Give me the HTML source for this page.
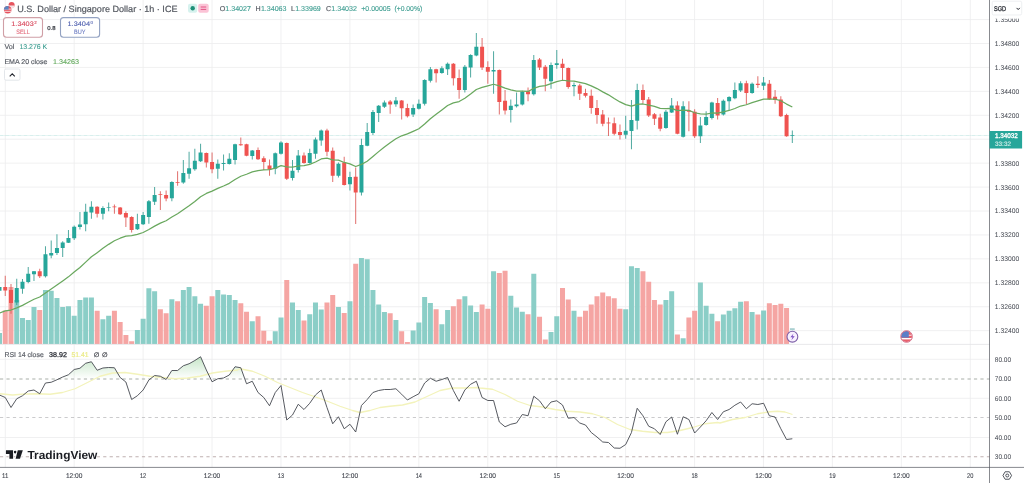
<!DOCTYPE html><html><head><meta charset="utf-8"><title>USDSGD chart</title>
<style>html,body{margin:0;padding:0;background:#fff;overflow:hidden}svg{display:block;filter:blur(0.35px)}text{font-family:"Liberation Sans", "DejaVu Sans", sans-serif;text-rendering:geometricPrecision}</style></head><body>
<svg width="1024" height="483" viewBox="0 0 1024 483">
<rect width="1024" height="483" fill="#fff"/>
<g stroke="#ececee" stroke-width="0.8" fill="none">
<line x1="5.25" y1="0" x2="5.25" y2="467.4"/>
<line x1="74.18" y1="0" x2="74.18" y2="467.4"/>
<line x1="143.11" y1="0" x2="143.11" y2="467.4"/>
<line x1="212.04" y1="0" x2="212.04" y2="467.4"/>
<line x1="280.97" y1="0" x2="280.97" y2="467.4"/>
<line x1="349.90" y1="0" x2="349.90" y2="467.4"/>
<line x1="418.83" y1="0" x2="418.83" y2="467.4"/>
<line x1="487.76" y1="0" x2="487.76" y2="467.4"/>
<line x1="556.69" y1="0" x2="556.69" y2="467.4"/>
<line x1="625.62" y1="0" x2="625.62" y2="467.4"/>
<line x1="694.55" y1="0" x2="694.55" y2="467.4"/>
<line x1="763.48" y1="0" x2="763.48" y2="467.4"/>
<line x1="832.41" y1="0" x2="832.41" y2="467.4"/>
<line x1="901.34" y1="0" x2="901.34" y2="467.4"/>
<line x1="970.27" y1="0" x2="970.27" y2="467.4"/>
<line x1="0" y1="19.57" x2="989.5" y2="19.57"/>
<line x1="0" y1="43.50" x2="989.5" y2="43.50"/>
<line x1="0" y1="67.43" x2="989.5" y2="67.43"/>
<line x1="0" y1="91.36" x2="989.5" y2="91.36"/>
<line x1="0" y1="115.29" x2="989.5" y2="115.29"/>
<line x1="0" y1="139.22" x2="989.5" y2="139.22"/>
<line x1="0" y1="163.15" x2="989.5" y2="163.15"/>
<line x1="0" y1="187.08" x2="989.5" y2="187.08"/>
<line x1="0" y1="211.01" x2="989.5" y2="211.01"/>
<line x1="0" y1="234.94" x2="989.5" y2="234.94"/>
<line x1="0" y1="258.87" x2="989.5" y2="258.87"/>
<line x1="0" y1="282.80" x2="989.5" y2="282.80"/>
<line x1="0" y1="306.73" x2="989.5" y2="306.73"/>
<line x1="0" y1="330.66" x2="989.5" y2="330.66"/>
<line x1="0" y1="359.25" x2="989.5" y2="359.25"/>
<line x1="0" y1="398.25" x2="989.5" y2="398.25"/>
<line x1="0" y1="437.50" x2="989.5" y2="437.50"/>
</g>
<g>
<rect x="-3.00" y="333.00" width="5" height="11.00" fill="#8bcec7"/>
<rect x="2.75" y="310.50" width="5" height="33.50" fill="#f5a5a3"/>
<rect x="8.50" y="287.00" width="5" height="57.00" fill="#f5a5a3"/>
<rect x="14.24" y="300.00" width="5" height="44.00" fill="#8bcec7"/>
<rect x="19.98" y="318.00" width="5" height="26.00" fill="#8bcec7"/>
<rect x="25.73" y="320.00" width="5" height="24.00" fill="#8bcec7"/>
<rect x="31.48" y="307.00" width="5" height="37.00" fill="#8bcec7"/>
<rect x="37.22" y="310.00" width="5" height="34.00" fill="#f5a5a3"/>
<rect x="42.97" y="290.00" width="5" height="54.00" fill="#8bcec7"/>
<rect x="48.71" y="290.75" width="5" height="53.25" fill="#8bcec7"/>
<rect x="54.45" y="298.00" width="5" height="46.00" fill="#8bcec7"/>
<rect x="60.20" y="307.00" width="5" height="37.00" fill="#8bcec7"/>
<rect x="65.94" y="306.25" width="5" height="37.75" fill="#8bcec7"/>
<rect x="71.69" y="315.75" width="5" height="28.25" fill="#8bcec7"/>
<rect x="77.44" y="300.00" width="5" height="44.00" fill="#8bcec7"/>
<rect x="83.18" y="297.50" width="5" height="46.50" fill="#8bcec7"/>
<rect x="88.92" y="297.50" width="5" height="46.50" fill="#8bcec7"/>
<rect x="94.67" y="310.75" width="5" height="33.25" fill="#f5a5a3"/>
<rect x="100.42" y="319.25" width="5" height="24.75" fill="#8bcec7"/>
<rect x="106.16" y="315.75" width="5" height="28.25" fill="#8bcec7"/>
<rect x="111.91" y="310.75" width="5" height="33.25" fill="#f5a5a3"/>
<rect x="117.65" y="322.00" width="5" height="22.00" fill="#f5a5a3"/>
<rect x="123.39" y="335.00" width="5" height="9.00" fill="#f5a5a3"/>
<rect x="129.14" y="341.25" width="5" height="2.75" fill="#f5a5a3"/>
<rect x="134.88" y="330.00" width="5" height="14.00" fill="#8bcec7"/>
<rect x="140.63" y="318.75" width="5" height="25.25" fill="#8bcec7"/>
<rect x="146.38" y="288.25" width="5" height="55.75" fill="#8bcec7"/>
<rect x="152.12" y="291.25" width="5" height="52.75" fill="#8bcec7"/>
<rect x="157.87" y="309.25" width="5" height="34.75" fill="#f5a5a3"/>
<rect x="163.61" y="313.25" width="5" height="30.75" fill="#f5a5a3"/>
<rect x="169.35" y="299.25" width="5" height="44.75" fill="#8bcec7"/>
<rect x="175.10" y="301.25" width="5" height="42.75" fill="#f5a5a3"/>
<rect x="180.84" y="290.00" width="5" height="54.00" fill="#8bcec7"/>
<rect x="186.59" y="287.00" width="5" height="57.00" fill="#8bcec7"/>
<rect x="192.34" y="296.25" width="5" height="47.75" fill="#8bcec7"/>
<rect x="198.08" y="303.75" width="5" height="40.25" fill="#8bcec7"/>
<rect x="203.83" y="305.75" width="5" height="38.25" fill="#f5a5a3"/>
<rect x="209.57" y="296.25" width="5" height="47.75" fill="#f5a5a3"/>
<rect x="215.31" y="290.00" width="5" height="54.00" fill="#8bcec7"/>
<rect x="221.06" y="294.50" width="5" height="49.50" fill="#8bcec7"/>
<rect x="226.81" y="295.00" width="5" height="49.00" fill="#8bcec7"/>
<rect x="232.55" y="300.00" width="5" height="44.00" fill="#8bcec7"/>
<rect x="238.30" y="303.25" width="5" height="40.75" fill="#f5a5a3"/>
<rect x="244.04" y="311.75" width="5" height="32.25" fill="#f5a5a3"/>
<rect x="249.78" y="321.25" width="5" height="22.75" fill="#8bcec7"/>
<rect x="255.53" y="316.25" width="5" height="27.75" fill="#f5a5a3"/>
<rect x="261.27" y="330.75" width="5" height="13.25" fill="#f5a5a3"/>
<rect x="267.02" y="340.75" width="5" height="3.25" fill="#f5a5a3"/>
<rect x="272.76" y="331.25" width="5" height="12.75" fill="#8bcec7"/>
<rect x="278.51" y="317.50" width="5" height="26.50" fill="#8bcec7"/>
<rect x="284.25" y="280.00" width="5" height="64.00" fill="#f5a5a3"/>
<rect x="290.00" y="302.50" width="5" height="41.50" fill="#8bcec7"/>
<rect x="295.75" y="310.00" width="5" height="34.00" fill="#8bcec7"/>
<rect x="301.49" y="320.50" width="5" height="23.50" fill="#f5a5a3"/>
<rect x="307.24" y="314.25" width="5" height="29.75" fill="#8bcec7"/>
<rect x="312.98" y="302.50" width="5" height="41.50" fill="#8bcec7"/>
<rect x="318.73" y="309.50" width="5" height="34.50" fill="#8bcec7"/>
<rect x="324.47" y="302.50" width="5" height="41.50" fill="#f5a5a3"/>
<rect x="330.22" y="295.00" width="5" height="49.00" fill="#f5a5a3"/>
<rect x="335.96" y="307.00" width="5" height="37.00" fill="#8bcec7"/>
<rect x="341.70" y="313.00" width="5" height="31.00" fill="#f5a5a3"/>
<rect x="347.45" y="301.25" width="5" height="42.75" fill="#8bcec7"/>
<rect x="353.19" y="263.75" width="5" height="80.25" fill="#f5a5a3"/>
<rect x="358.94" y="258.00" width="5" height="86.00" fill="#8bcec7"/>
<rect x="364.69" y="259.25" width="5" height="84.75" fill="#8bcec7"/>
<rect x="370.43" y="290.00" width="5" height="54.00" fill="#8bcec7"/>
<rect x="376.18" y="304.50" width="5" height="39.50" fill="#8bcec7"/>
<rect x="381.92" y="312.00" width="5" height="32.00" fill="#8bcec7"/>
<rect x="387.67" y="313.25" width="5" height="30.75" fill="#f5a5a3"/>
<rect x="393.41" y="320.00" width="5" height="24.00" fill="#8bcec7"/>
<rect x="399.16" y="331.25" width="5" height="12.75" fill="#f5a5a3"/>
<rect x="404.90" y="342.00" width="5" height="2.00" fill="#f5a5a3"/>
<rect x="410.64" y="330.50" width="5" height="13.50" fill="#8bcec7"/>
<rect x="416.39" y="322.50" width="5" height="21.50" fill="#8bcec7"/>
<rect x="422.13" y="297.00" width="5" height="47.00" fill="#8bcec7"/>
<rect x="427.88" y="303.00" width="5" height="41.00" fill="#8bcec7"/>
<rect x="433.62" y="309.25" width="5" height="34.75" fill="#f5a5a3"/>
<rect x="439.37" y="324.25" width="5" height="19.75" fill="#8bcec7"/>
<rect x="445.12" y="310.00" width="5" height="34.00" fill="#8bcec7"/>
<rect x="450.86" y="306.25" width="5" height="37.75" fill="#f5a5a3"/>
<rect x="456.61" y="299.25" width="5" height="44.75" fill="#f5a5a3"/>
<rect x="462.35" y="296.25" width="5" height="47.75" fill="#8bcec7"/>
<rect x="468.10" y="305.50" width="5" height="38.50" fill="#8bcec7"/>
<rect x="473.84" y="312.00" width="5" height="32.00" fill="#8bcec7"/>
<rect x="479.59" y="304.50" width="5" height="39.50" fill="#f5a5a3"/>
<rect x="485.33" y="308.75" width="5" height="35.25" fill="#f5a5a3"/>
<rect x="491.07" y="271.25" width="5" height="72.75" fill="#8bcec7"/>
<rect x="496.82" y="273.00" width="5" height="71.00" fill="#f5a5a3"/>
<rect x="502.56" y="270.75" width="5" height="73.25" fill="#f5a5a3"/>
<rect x="508.31" y="295.75" width="5" height="48.25" fill="#8bcec7"/>
<rect x="514.06" y="307.50" width="5" height="36.50" fill="#8bcec7"/>
<rect x="519.80" y="311.75" width="5" height="32.25" fill="#8bcec7"/>
<rect x="525.54" y="314.25" width="5" height="29.75" fill="#f5a5a3"/>
<rect x="531.29" y="273.75" width="5" height="70.25" fill="#8bcec7"/>
<rect x="537.03" y="316.75" width="5" height="27.25" fill="#f5a5a3"/>
<rect x="542.78" y="339.50" width="5" height="4.50" fill="#f5a5a3"/>
<rect x="548.52" y="332.00" width="5" height="12.00" fill="#8bcec7"/>
<rect x="554.27" y="316.25" width="5" height="27.75" fill="#8bcec7"/>
<rect x="560.01" y="288.00" width="5" height="56.00" fill="#f5a5a3"/>
<rect x="565.76" y="299.50" width="5" height="44.50" fill="#f5a5a3"/>
<rect x="571.50" y="310.75" width="5" height="33.25" fill="#8bcec7"/>
<rect x="577.25" y="316.75" width="5" height="27.25" fill="#f5a5a3"/>
<rect x="583.00" y="310.75" width="5" height="33.25" fill="#f5a5a3"/>
<rect x="588.74" y="304.50" width="5" height="39.50" fill="#f5a5a3"/>
<rect x="594.49" y="296.25" width="5" height="47.75" fill="#f5a5a3"/>
<rect x="600.23" y="292.50" width="5" height="51.50" fill="#f5a5a3"/>
<rect x="605.98" y="296.25" width="5" height="47.75" fill="#f5a5a3"/>
<rect x="611.72" y="298.25" width="5" height="45.75" fill="#f5a5a3"/>
<rect x="617.47" y="308.75" width="5" height="35.25" fill="#f5a5a3"/>
<rect x="623.21" y="309.25" width="5" height="34.75" fill="#8bcec7"/>
<rect x="628.96" y="266.25" width="5" height="77.75" fill="#8bcec7"/>
<rect x="634.70" y="268.00" width="5" height="76.00" fill="#8bcec7"/>
<rect x="640.45" y="271.25" width="5" height="72.75" fill="#f5a5a3"/>
<rect x="646.19" y="281.75" width="5" height="62.25" fill="#f5a5a3"/>
<rect x="651.94" y="300.00" width="5" height="44.00" fill="#f5a5a3"/>
<rect x="657.68" y="304.50" width="5" height="39.50" fill="#f5a5a3"/>
<rect x="663.43" y="300.00" width="5" height="44.00" fill="#8bcec7"/>
<rect x="669.17" y="291.25" width="5" height="52.75" fill="#8bcec7"/>
<rect x="674.91" y="334.50" width="5" height="9.50" fill="#f5a5a3"/>
<rect x="680.66" y="338.25" width="5" height="5.75" fill="#8bcec7"/>
<rect x="686.40" y="317.50" width="5" height="26.50" fill="#f5a5a3"/>
<rect x="692.15" y="310.75" width="5" height="33.25" fill="#f5a5a3"/>
<rect x="697.89" y="282.50" width="5" height="61.50" fill="#8bcec7"/>
<rect x="703.64" y="305.75" width="5" height="38.25" fill="#8bcec7"/>
<rect x="709.38" y="313.75" width="5" height="30.25" fill="#8bcec7"/>
<rect x="715.13" y="321.25" width="5" height="22.75" fill="#f5a5a3"/>
<rect x="720.88" y="314.50" width="5" height="29.50" fill="#8bcec7"/>
<rect x="726.62" y="310.75" width="5" height="33.25" fill="#8bcec7"/>
<rect x="732.37" y="308.25" width="5" height="35.75" fill="#8bcec7"/>
<rect x="738.11" y="301.75" width="5" height="42.25" fill="#8bcec7"/>
<rect x="743.86" y="301.25" width="5" height="42.75" fill="#f5a5a3"/>
<rect x="749.60" y="312.00" width="5" height="32.00" fill="#8bcec7"/>
<rect x="755.35" y="314.50" width="5" height="29.50" fill="#f5a5a3"/>
<rect x="761.09" y="310.50" width="5" height="33.50" fill="#8bcec7"/>
<rect x="766.84" y="303.25" width="5" height="40.75" fill="#f5a5a3"/>
<rect x="772.58" y="305.00" width="5" height="39.00" fill="#f5a5a3"/>
<rect x="778.33" y="303.75" width="5" height="40.25" fill="#f5a5a3"/>
<rect x="784.07" y="308.00" width="5" height="36.00" fill="#f5a5a3"/>
<rect x="789.92" y="328.2" width="4.8" height="2" fill="#a9cfd0"/>
</g>
<line x1="0" y1="135.4" x2="989.5" y2="135.4" stroke="#26a69a" stroke-width="0.6" stroke-dasharray="0.6 0.6" opacity="0.55"/>
<g>
<line x1="-0.50" y1="285.00" x2="-0.50" y2="292.00" stroke="#2f9a8f" stroke-width="0.85"/>
<rect x="-2.50" y="287.00" width="4" height="3.75" fill="#26a69a"/>
<line x1="5.25" y1="275.75" x2="5.25" y2="296.00" stroke="#dc5553" stroke-width="0.85"/>
<rect x="3.25" y="287.00" width="4" height="3.50" fill="#ef5350"/>
<line x1="11.00" y1="284.00" x2="11.00" y2="313.75" stroke="#dc5553" stroke-width="0.85"/>
<rect x="9.00" y="290.00" width="4" height="13.00" fill="#ef5350"/>
<line x1="16.74" y1="278.75" x2="16.74" y2="305.00" stroke="#2f9a8f" stroke-width="0.85"/>
<rect x="14.74" y="288.00" width="4" height="14.50" fill="#26a69a"/>
<line x1="22.48" y1="279.00" x2="22.48" y2="293.75" stroke="#2f9a8f" stroke-width="0.85"/>
<rect x="20.48" y="281.75" width="4" height="7.00" fill="#26a69a"/>
<line x1="28.23" y1="267.00" x2="28.23" y2="283.25" stroke="#2f9a8f" stroke-width="0.85"/>
<rect x="26.23" y="273.75" width="4" height="8.25" fill="#26a69a"/>
<line x1="33.98" y1="271.00" x2="33.98" y2="281.00" stroke="#2f9a8f" stroke-width="0.85"/>
<rect x="31.98" y="271.25" width="4" height="3.00" fill="#26a69a"/>
<line x1="39.72" y1="268.75" x2="39.72" y2="278.00" stroke="#dc5553" stroke-width="0.85"/>
<rect x="37.72" y="271.25" width="4" height="5.00" fill="#ef5350"/>
<line x1="45.47" y1="246.25" x2="45.47" y2="277.50" stroke="#2f9a8f" stroke-width="0.85"/>
<rect x="43.47" y="254.25" width="4" height="22.00" fill="#26a69a"/>
<line x1="51.21" y1="240.50" x2="51.21" y2="258.25" stroke="#2f9a8f" stroke-width="0.85"/>
<rect x="49.21" y="253.00" width="4" height="2.50" fill="#26a69a"/>
<line x1="56.95" y1="234.25" x2="56.95" y2="255.00" stroke="#2f9a8f" stroke-width="0.85"/>
<rect x="54.95" y="248.00" width="4" height="5.00" fill="#26a69a"/>
<line x1="62.70" y1="241.25" x2="62.70" y2="257.00" stroke="#2f9a8f" stroke-width="0.85"/>
<rect x="60.70" y="242.50" width="4" height="5.50" fill="#26a69a"/>
<line x1="68.44" y1="230.00" x2="68.44" y2="243.00" stroke="#2f9a8f" stroke-width="0.85"/>
<rect x="66.44" y="238.00" width="4" height="4.75" fill="#26a69a"/>
<line x1="74.19" y1="225.50" x2="74.19" y2="240.00" stroke="#2f9a8f" stroke-width="0.85"/>
<rect x="72.19" y="226.75" width="4" height="11.50" fill="#26a69a"/>
<line x1="79.94" y1="212.00" x2="79.94" y2="229.50" stroke="#2f9a8f" stroke-width="0.85"/>
<rect x="77.94" y="224.50" width="4" height="2.50" fill="#26a69a"/>
<line x1="85.68" y1="203.75" x2="85.68" y2="231.25" stroke="#2f9a8f" stroke-width="0.85"/>
<rect x="83.68" y="211.75" width="4" height="12.50" fill="#26a69a"/>
<line x1="91.42" y1="201.25" x2="91.42" y2="218.75" stroke="#2f9a8f" stroke-width="0.85"/>
<rect x="89.42" y="206.75" width="4" height="5.75" fill="#26a69a"/>
<line x1="97.17" y1="206.25" x2="97.17" y2="217.50" stroke="#dc5553" stroke-width="0.85"/>
<rect x="95.17" y="206.75" width="4" height="7.00" fill="#ef5350"/>
<line x1="102.92" y1="206.25" x2="102.92" y2="219.50" stroke="#2f9a8f" stroke-width="0.85"/>
<rect x="100.92" y="208.00" width="4" height="5.75" fill="#26a69a"/>
<line x1="108.66" y1="202.50" x2="108.66" y2="211.25" stroke="#2f9a8f" stroke-width="0.85"/>
<rect x="106.66" y="207.00" width="4" height="0.60" fill="#26a69a"/>
<line x1="114.41" y1="204.50" x2="114.41" y2="213.75" stroke="#dc5553" stroke-width="0.85"/>
<rect x="112.41" y="206.50" width="4" height="0.75" fill="#ef5350"/>
<line x1="120.15" y1="207.00" x2="120.15" y2="215.00" stroke="#dc5553" stroke-width="0.85"/>
<rect x="118.15" y="207.50" width="4" height="6.75" fill="#ef5350"/>
<line x1="125.89" y1="211.25" x2="125.89" y2="227.00" stroke="#dc5553" stroke-width="0.85"/>
<rect x="123.89" y="213.00" width="4" height="4.50" fill="#ef5350"/>
<line x1="131.64" y1="216.25" x2="131.64" y2="232.50" stroke="#dc5553" stroke-width="0.85"/>
<rect x="129.64" y="217.00" width="4" height="13.00" fill="#ef5350"/>
<line x1="137.38" y1="213.75" x2="137.38" y2="230.00" stroke="#2f9a8f" stroke-width="0.85"/>
<rect x="135.38" y="224.00" width="4" height="5.25" fill="#26a69a"/>
<line x1="143.13" y1="212.00" x2="143.13" y2="225.00" stroke="#2f9a8f" stroke-width="0.85"/>
<rect x="141.13" y="215.00" width="4" height="9.25" fill="#26a69a"/>
<line x1="148.88" y1="200.00" x2="148.88" y2="223.75" stroke="#2f9a8f" stroke-width="0.85"/>
<rect x="146.88" y="201.25" width="4" height="15.75" fill="#26a69a"/>
<line x1="154.62" y1="187.00" x2="154.62" y2="205.00" stroke="#2f9a8f" stroke-width="0.85"/>
<rect x="152.62" y="195.00" width="4" height="6.75" fill="#26a69a"/>
<line x1="160.37" y1="191.25" x2="160.37" y2="210.00" stroke="#dc5553" stroke-width="0.85"/>
<rect x="158.37" y="194.25" width="4" height="0.75" fill="#ef5350"/>
<line x1="166.11" y1="190.50" x2="166.11" y2="201.25" stroke="#dc5553" stroke-width="0.85"/>
<rect x="164.11" y="195.00" width="4" height="3.50" fill="#ef5350"/>
<line x1="171.85" y1="181.25" x2="171.85" y2="201.25" stroke="#2f9a8f" stroke-width="0.85"/>
<rect x="169.85" y="182.00" width="4" height="16.25" fill="#26a69a"/>
<line x1="177.60" y1="171.25" x2="177.60" y2="185.75" stroke="#dc5553" stroke-width="0.85"/>
<rect x="175.60" y="182.00" width="4" height="0.75" fill="#ef5350"/>
<line x1="183.34" y1="160.00" x2="183.34" y2="183.75" stroke="#2f9a8f" stroke-width="0.85"/>
<rect x="181.34" y="173.00" width="4" height="9.50" fill="#26a69a"/>
<line x1="189.09" y1="151.75" x2="189.09" y2="178.75" stroke="#2f9a8f" stroke-width="0.85"/>
<rect x="187.09" y="168.25" width="4" height="5.50" fill="#26a69a"/>
<line x1="194.84" y1="148.75" x2="194.84" y2="170.75" stroke="#2f9a8f" stroke-width="0.85"/>
<rect x="192.84" y="160.75" width="4" height="8.50" fill="#26a69a"/>
<line x1="200.58" y1="143.75" x2="200.58" y2="162.00" stroke="#2f9a8f" stroke-width="0.85"/>
<rect x="198.58" y="152.50" width="4" height="8.75" fill="#26a69a"/>
<line x1="206.33" y1="152.50" x2="206.33" y2="167.50" stroke="#dc5553" stroke-width="0.85"/>
<rect x="204.33" y="153.00" width="4" height="9.50" fill="#ef5350"/>
<line x1="212.07" y1="152.50" x2="212.07" y2="173.25" stroke="#dc5553" stroke-width="0.85"/>
<rect x="210.07" y="162.00" width="4" height="7.25" fill="#ef5350"/>
<line x1="217.81" y1="159.50" x2="217.81" y2="178.75" stroke="#2f9a8f" stroke-width="0.85"/>
<rect x="215.81" y="163.75" width="4" height="5.00" fill="#26a69a"/>
<line x1="223.56" y1="154.50" x2="223.56" y2="170.50" stroke="#2f9a8f" stroke-width="0.85"/>
<rect x="221.56" y="163.00" width="4" height="1.00" fill="#26a69a"/>
<line x1="229.31" y1="153.25" x2="229.31" y2="164.50" stroke="#2f9a8f" stroke-width="0.85"/>
<rect x="227.31" y="158.75" width="4" height="5.25" fill="#26a69a"/>
<line x1="235.05" y1="143.75" x2="235.05" y2="164.50" stroke="#2f9a8f" stroke-width="0.85"/>
<rect x="233.05" y="144.25" width="4" height="15.75" fill="#26a69a"/>
<line x1="240.80" y1="137.50" x2="240.80" y2="145.75" stroke="#dc5553" stroke-width="0.85"/>
<rect x="238.80" y="144.25" width="4" height="1.00" fill="#ef5350"/>
<line x1="246.54" y1="143.75" x2="246.54" y2="156.25" stroke="#dc5553" stroke-width="0.85"/>
<rect x="244.54" y="144.25" width="4" height="11.50" fill="#ef5350"/>
<line x1="252.28" y1="150.00" x2="252.28" y2="159.50" stroke="#2f9a8f" stroke-width="0.85"/>
<rect x="250.28" y="150.50" width="4" height="5.50" fill="#26a69a"/>
<line x1="258.03" y1="147.50" x2="258.03" y2="160.00" stroke="#dc5553" stroke-width="0.85"/>
<rect x="256.03" y="150.00" width="4" height="9.25" fill="#ef5350"/>
<line x1="263.77" y1="156.25" x2="263.77" y2="170.00" stroke="#dc5553" stroke-width="0.85"/>
<rect x="261.77" y="158.25" width="4" height="3.75" fill="#ef5350"/>
<line x1="269.52" y1="159.50" x2="269.52" y2="175.75" stroke="#dc5553" stroke-width="0.85"/>
<rect x="267.52" y="165.50" width="4" height="4.00" fill="#ef5350"/>
<line x1="275.26" y1="152.50" x2="275.26" y2="174.25" stroke="#2f9a8f" stroke-width="0.85"/>
<rect x="273.26" y="153.25" width="4" height="15.50" fill="#26a69a"/>
<line x1="281.01" y1="141.25" x2="281.01" y2="154.50" stroke="#2f9a8f" stroke-width="0.85"/>
<rect x="279.01" y="142.50" width="4" height="11.25" fill="#26a69a"/>
<line x1="286.75" y1="142.50" x2="286.75" y2="180.00" stroke="#dc5553" stroke-width="0.85"/>
<rect x="284.75" y="143.00" width="4" height="35.75" fill="#ef5350"/>
<line x1="292.50" y1="160.00" x2="292.50" y2="180.50" stroke="#2f9a8f" stroke-width="0.85"/>
<rect x="290.50" y="170.75" width="4" height="7.25" fill="#26a69a"/>
<line x1="298.25" y1="150.00" x2="298.25" y2="172.50" stroke="#2f9a8f" stroke-width="0.85"/>
<rect x="296.25" y="155.50" width="4" height="14.50" fill="#26a69a"/>
<line x1="303.99" y1="152.50" x2="303.99" y2="163.75" stroke="#dc5553" stroke-width="0.85"/>
<rect x="301.99" y="155.50" width="4" height="7.50" fill="#ef5350"/>
<line x1="309.74" y1="148.75" x2="309.74" y2="163.75" stroke="#2f9a8f" stroke-width="0.85"/>
<rect x="307.74" y="153.00" width="4" height="10.00" fill="#26a69a"/>
<line x1="315.48" y1="137.50" x2="315.48" y2="158.75" stroke="#2f9a8f" stroke-width="0.85"/>
<rect x="313.48" y="139.50" width="4" height="14.25" fill="#26a69a"/>
<line x1="321.23" y1="129.50" x2="321.23" y2="145.75" stroke="#2f9a8f" stroke-width="0.85"/>
<rect x="319.23" y="130.50" width="4" height="10.00" fill="#26a69a"/>
<line x1="326.97" y1="128.75" x2="326.97" y2="156.25" stroke="#dc5553" stroke-width="0.85"/>
<rect x="324.97" y="130.50" width="4" height="21.25" fill="#ef5350"/>
<line x1="332.72" y1="147.50" x2="332.72" y2="182.00" stroke="#dc5553" stroke-width="0.85"/>
<rect x="330.72" y="150.75" width="4" height="25.00" fill="#ef5350"/>
<line x1="338.46" y1="162.50" x2="338.46" y2="177.50" stroke="#2f9a8f" stroke-width="0.85"/>
<rect x="336.46" y="163.75" width="4" height="12.00" fill="#26a69a"/>
<line x1="344.20" y1="156.75" x2="344.20" y2="185.50" stroke="#dc5553" stroke-width="0.85"/>
<rect x="342.20" y="162.50" width="4" height="22.50" fill="#ef5350"/>
<line x1="349.95" y1="171.75" x2="349.95" y2="190.50" stroke="#2f9a8f" stroke-width="0.85"/>
<rect x="347.95" y="177.00" width="4" height="7.25" fill="#26a69a"/>
<line x1="355.69" y1="167.50" x2="355.69" y2="224.00" stroke="#dc5553" stroke-width="0.85"/>
<rect x="353.69" y="176.75" width="4" height="15.75" fill="#ef5350"/>
<line x1="361.44" y1="138.75" x2="361.44" y2="195.50" stroke="#2f9a8f" stroke-width="0.85"/>
<rect x="359.44" y="145.00" width="4" height="47.50" fill="#26a69a"/>
<line x1="367.19" y1="123.00" x2="367.19" y2="146.25" stroke="#2f9a8f" stroke-width="0.85"/>
<rect x="365.19" y="132.00" width="4" height="13.75" fill="#26a69a"/>
<line x1="372.93" y1="110.00" x2="372.93" y2="135.00" stroke="#2f9a8f" stroke-width="0.85"/>
<rect x="370.93" y="112.00" width="4" height="21.00" fill="#26a69a"/>
<line x1="378.68" y1="105.00" x2="378.68" y2="122.00" stroke="#2f9a8f" stroke-width="0.85"/>
<rect x="376.68" y="105.75" width="4" height="7.25" fill="#26a69a"/>
<line x1="384.42" y1="100.50" x2="384.42" y2="108.00" stroke="#2f9a8f" stroke-width="0.85"/>
<rect x="382.42" y="102.50" width="4" height="4.25" fill="#26a69a"/>
<line x1="390.17" y1="100.00" x2="390.17" y2="113.75" stroke="#dc5553" stroke-width="0.85"/>
<rect x="388.17" y="101.50" width="4" height="3.00" fill="#ef5350"/>
<line x1="395.91" y1="97.00" x2="395.91" y2="106.75" stroke="#2f9a8f" stroke-width="0.85"/>
<rect x="393.91" y="100.50" width="4" height="3.75" fill="#26a69a"/>
<line x1="401.66" y1="100.00" x2="401.66" y2="119.50" stroke="#dc5553" stroke-width="0.85"/>
<rect x="399.66" y="100.50" width="4" height="7.75" fill="#ef5350"/>
<line x1="407.40" y1="103.75" x2="407.40" y2="117.50" stroke="#dc5553" stroke-width="0.85"/>
<rect x="405.40" y="108.00" width="4" height="8.25" fill="#ef5350"/>
<line x1="413.14" y1="104.50" x2="413.14" y2="117.00" stroke="#2f9a8f" stroke-width="0.85"/>
<rect x="411.14" y="108.00" width="4" height="6.50" fill="#26a69a"/>
<line x1="418.89" y1="99.50" x2="418.89" y2="109.50" stroke="#2f9a8f" stroke-width="0.85"/>
<rect x="416.89" y="103.75" width="4" height="5.00" fill="#26a69a"/>
<line x1="424.63" y1="79.25" x2="424.63" y2="105.50" stroke="#2f9a8f" stroke-width="0.85"/>
<rect x="422.63" y="80.00" width="4" height="23.75" fill="#26a69a"/>
<line x1="430.38" y1="67.00" x2="430.38" y2="82.50" stroke="#2f9a8f" stroke-width="0.85"/>
<rect x="428.38" y="69.25" width="4" height="11.50" fill="#26a69a"/>
<line x1="436.12" y1="68.75" x2="436.12" y2="82.50" stroke="#dc5553" stroke-width="0.85"/>
<rect x="434.12" y="69.25" width="4" height="4.00" fill="#ef5350"/>
<line x1="441.87" y1="66.25" x2="441.87" y2="73.75" stroke="#2f9a8f" stroke-width="0.85"/>
<rect x="439.87" y="68.25" width="4" height="4.75" fill="#26a69a"/>
<line x1="447.62" y1="62.50" x2="447.62" y2="75.00" stroke="#2f9a8f" stroke-width="0.85"/>
<rect x="445.62" y="63.75" width="4" height="5.50" fill="#26a69a"/>
<line x1="453.36" y1="63.00" x2="453.36" y2="85.50" stroke="#dc5553" stroke-width="0.85"/>
<rect x="451.36" y="63.75" width="4" height="14.50" fill="#ef5350"/>
<line x1="459.11" y1="69.50" x2="459.11" y2="98.75" stroke="#dc5553" stroke-width="0.85"/>
<rect x="457.11" y="78.00" width="4" height="12.00" fill="#ef5350"/>
<line x1="464.85" y1="65.00" x2="464.85" y2="92.50" stroke="#2f9a8f" stroke-width="0.85"/>
<rect x="462.85" y="66.75" width="4" height="23.25" fill="#26a69a"/>
<line x1="470.60" y1="54.25" x2="470.60" y2="77.50" stroke="#2f9a8f" stroke-width="0.85"/>
<rect x="468.60" y="55.00" width="4" height="12.50" fill="#26a69a"/>
<line x1="476.34" y1="33.00" x2="476.34" y2="56.25" stroke="#2f9a8f" stroke-width="0.85"/>
<rect x="474.34" y="46.75" width="4" height="8.75" fill="#26a69a"/>
<line x1="482.09" y1="38.00" x2="482.09" y2="70.00" stroke="#dc5553" stroke-width="0.85"/>
<rect x="480.09" y="46.75" width="4" height="20.75" fill="#ef5350"/>
<line x1="487.83" y1="61.25" x2="487.83" y2="83.75" stroke="#dc5553" stroke-width="0.85"/>
<rect x="485.83" y="67.00" width="4" height="4.75" fill="#ef5350"/>
<line x1="493.57" y1="51.25" x2="493.57" y2="93.75" stroke="#2f9a8f" stroke-width="0.85"/>
<rect x="491.57" y="70.00" width="4" height="1.50" fill="#26a69a"/>
<line x1="499.32" y1="69.50" x2="499.32" y2="114.50" stroke="#dc5553" stroke-width="0.85"/>
<rect x="497.32" y="70.00" width="4" height="32.00" fill="#ef5350"/>
<line x1="505.06" y1="90.00" x2="505.06" y2="114.50" stroke="#dc5553" stroke-width="0.85"/>
<rect x="503.06" y="100.75" width="4" height="9.75" fill="#ef5350"/>
<line x1="510.81" y1="99.50" x2="510.81" y2="122.50" stroke="#2f9a8f" stroke-width="0.85"/>
<rect x="508.81" y="105.75" width="4" height="4.25" fill="#26a69a"/>
<line x1="516.56" y1="92.50" x2="516.56" y2="107.50" stroke="#2f9a8f" stroke-width="0.85"/>
<rect x="514.56" y="104.50" width="4" height="1.75" fill="#26a69a"/>
<line x1="522.30" y1="90.75" x2="522.30" y2="105.50" stroke="#2f9a8f" stroke-width="0.85"/>
<rect x="520.30" y="91.75" width="4" height="12.75" fill="#26a69a"/>
<line x1="528.04" y1="87.50" x2="528.04" y2="101.25" stroke="#dc5553" stroke-width="0.85"/>
<rect x="526.04" y="91.25" width="4" height="3.00" fill="#ef5350"/>
<line x1="533.79" y1="55.00" x2="533.79" y2="95.50" stroke="#2f9a8f" stroke-width="0.85"/>
<rect x="531.79" y="60.00" width="4" height="34.25" fill="#26a69a"/>
<line x1="539.53" y1="58.00" x2="539.53" y2="70.00" stroke="#dc5553" stroke-width="0.85"/>
<rect x="537.53" y="59.50" width="4" height="8.00" fill="#ef5350"/>
<line x1="545.28" y1="65.00" x2="545.28" y2="91.25" stroke="#dc5553" stroke-width="0.85"/>
<rect x="543.28" y="66.75" width="4" height="12.00" fill="#ef5350"/>
<line x1="551.02" y1="62.50" x2="551.02" y2="88.75" stroke="#2f9a8f" stroke-width="0.85"/>
<rect x="549.02" y="65.00" width="4" height="16.25" fill="#26a69a"/>
<line x1="556.77" y1="50.00" x2="556.77" y2="68.75" stroke="#2f9a8f" stroke-width="0.85"/>
<rect x="554.77" y="63.25" width="4" height="1.75" fill="#26a69a"/>
<line x1="562.51" y1="58.75" x2="562.51" y2="80.00" stroke="#dc5553" stroke-width="0.85"/>
<rect x="560.51" y="63.75" width="4" height="4.25" fill="#ef5350"/>
<line x1="568.26" y1="67.50" x2="568.26" y2="88.75" stroke="#dc5553" stroke-width="0.85"/>
<rect x="566.26" y="68.00" width="4" height="19.00" fill="#ef5350"/>
<line x1="574.00" y1="82.50" x2="574.00" y2="96.25" stroke="#2f9a8f" stroke-width="0.85"/>
<rect x="572.00" y="85.00" width="4" height="1.25" fill="#26a69a"/>
<line x1="579.75" y1="83.75" x2="579.75" y2="100.00" stroke="#dc5553" stroke-width="0.85"/>
<rect x="577.75" y="85.50" width="4" height="8.25" fill="#ef5350"/>
<line x1="585.50" y1="88.75" x2="585.50" y2="97.50" stroke="#dc5553" stroke-width="0.85"/>
<rect x="583.50" y="93.00" width="4" height="2.75" fill="#ef5350"/>
<line x1="591.24" y1="89.50" x2="591.24" y2="113.75" stroke="#dc5553" stroke-width="0.85"/>
<rect x="589.24" y="95.75" width="4" height="12.25" fill="#ef5350"/>
<line x1="596.99" y1="100.00" x2="596.99" y2="123.75" stroke="#dc5553" stroke-width="0.85"/>
<rect x="594.99" y="108.00" width="4" height="7.00" fill="#ef5350"/>
<line x1="602.73" y1="110.00" x2="602.73" y2="126.25" stroke="#dc5553" stroke-width="0.85"/>
<rect x="600.73" y="114.50" width="4" height="9.25" fill="#ef5350"/>
<line x1="608.48" y1="117.50" x2="608.48" y2="136.00" stroke="#dc5553" stroke-width="0.85"/>
<rect x="606.48" y="122.50" width="4" height="0.90" fill="#ef5350"/>
<line x1="614.22" y1="117.50" x2="614.22" y2="135.25" stroke="#dc5553" stroke-width="0.85"/>
<rect x="612.22" y="123.25" width="4" height="10.50" fill="#ef5350"/>
<line x1="619.97" y1="124.50" x2="619.97" y2="139.50" stroke="#dc5553" stroke-width="0.85"/>
<rect x="617.97" y="132.00" width="4" height="3.00" fill="#ef5350"/>
<line x1="625.71" y1="115.75" x2="625.71" y2="138.75" stroke="#2f9a8f" stroke-width="0.85"/>
<rect x="623.71" y="130.75" width="4" height="4.00" fill="#26a69a"/>
<line x1="631.46" y1="100.00" x2="631.46" y2="149.25" stroke="#2f9a8f" stroke-width="0.85"/>
<rect x="629.46" y="120.00" width="4" height="11.00" fill="#26a69a"/>
<line x1="637.20" y1="83.75" x2="637.20" y2="129.50" stroke="#2f9a8f" stroke-width="0.85"/>
<rect x="635.20" y="90.00" width="4" height="30.75" fill="#26a69a"/>
<line x1="642.95" y1="84.50" x2="642.95" y2="103.75" stroke="#dc5553" stroke-width="0.85"/>
<rect x="640.95" y="90.00" width="4" height="10.00" fill="#ef5350"/>
<line x1="648.69" y1="97.00" x2="648.69" y2="117.00" stroke="#dc5553" stroke-width="0.85"/>
<rect x="646.69" y="99.50" width="4" height="16.00" fill="#ef5350"/>
<line x1="654.44" y1="113.00" x2="654.44" y2="125.00" stroke="#dc5553" stroke-width="0.85"/>
<rect x="652.44" y="114.25" width="4" height="4.50" fill="#ef5350"/>
<line x1="660.18" y1="113.75" x2="660.18" y2="131.25" stroke="#dc5553" stroke-width="0.85"/>
<rect x="658.18" y="117.50" width="4" height="11.25" fill="#ef5350"/>
<line x1="665.93" y1="110.00" x2="665.93" y2="128.75" stroke="#2f9a8f" stroke-width="0.85"/>
<rect x="663.93" y="111.75" width="4" height="16.25" fill="#26a69a"/>
<line x1="671.67" y1="98.00" x2="671.67" y2="113.00" stroke="#2f9a8f" stroke-width="0.85"/>
<rect x="669.67" y="105.50" width="4" height="7.00" fill="#26a69a"/>
<line x1="677.41" y1="101.25" x2="677.41" y2="134.25" stroke="#dc5553" stroke-width="0.85"/>
<rect x="675.41" y="105.50" width="4" height="28.25" fill="#ef5350"/>
<line x1="683.16" y1="101.25" x2="683.16" y2="137.50" stroke="#2f9a8f" stroke-width="0.85"/>
<rect x="681.16" y="106.25" width="4" height="30.50" fill="#26a69a"/>
<line x1="688.90" y1="101.25" x2="688.90" y2="131.25" stroke="#dc5553" stroke-width="0.85"/>
<rect x="686.90" y="110.50" width="4" height="1.25" fill="#ef5350"/>
<line x1="694.65" y1="109.25" x2="694.65" y2="138.00" stroke="#dc5553" stroke-width="0.85"/>
<rect x="692.65" y="111.75" width="4" height="24.50" fill="#ef5350"/>
<line x1="700.39" y1="117.00" x2="700.39" y2="143.00" stroke="#2f9a8f" stroke-width="0.85"/>
<rect x="698.39" y="125.50" width="4" height="10.75" fill="#26a69a"/>
<line x1="706.14" y1="111.25" x2="706.14" y2="125.75" stroke="#2f9a8f" stroke-width="0.85"/>
<rect x="704.14" y="117.00" width="4" height="8.00" fill="#26a69a"/>
<line x1="711.88" y1="101.75" x2="711.88" y2="119.50" stroke="#2f9a8f" stroke-width="0.85"/>
<rect x="709.88" y="102.50" width="4" height="15.50" fill="#26a69a"/>
<line x1="717.63" y1="98.00" x2="717.63" y2="119.50" stroke="#dc5553" stroke-width="0.85"/>
<rect x="715.63" y="103.00" width="4" height="12.50" fill="#ef5350"/>
<line x1="723.38" y1="99.50" x2="723.38" y2="115.50" stroke="#2f9a8f" stroke-width="0.85"/>
<rect x="721.38" y="100.75" width="4" height="13.75" fill="#26a69a"/>
<line x1="729.12" y1="96.25" x2="729.12" y2="110.00" stroke="#2f9a8f" stroke-width="0.85"/>
<rect x="727.12" y="97.00" width="4" height="4.25" fill="#26a69a"/>
<line x1="734.87" y1="82.50" x2="734.87" y2="99.25" stroke="#2f9a8f" stroke-width="0.85"/>
<rect x="732.87" y="90.00" width="4" height="8.25" fill="#26a69a"/>
<line x1="740.61" y1="81.25" x2="740.61" y2="92.00" stroke="#2f9a8f" stroke-width="0.85"/>
<rect x="738.61" y="83.25" width="4" height="7.25" fill="#26a69a"/>
<line x1="746.36" y1="80.75" x2="746.36" y2="104.50" stroke="#dc5553" stroke-width="0.85"/>
<rect x="744.36" y="83.25" width="4" height="9.75" fill="#ef5350"/>
<line x1="752.10" y1="82.50" x2="752.10" y2="93.75" stroke="#2f9a8f" stroke-width="0.85"/>
<rect x="750.10" y="83.75" width="4" height="9.25" fill="#26a69a"/>
<line x1="757.85" y1="76.25" x2="757.85" y2="88.00" stroke="#dc5553" stroke-width="0.85"/>
<rect x="755.85" y="83.75" width="4" height="1.25" fill="#ef5350"/>
<line x1="763.59" y1="77.00" x2="763.59" y2="90.00" stroke="#2f9a8f" stroke-width="0.85"/>
<rect x="761.59" y="82.50" width="4" height="3.25" fill="#26a69a"/>
<line x1="769.34" y1="80.00" x2="769.34" y2="100.00" stroke="#dc5553" stroke-width="0.85"/>
<rect x="767.34" y="83.75" width="4" height="15.50" fill="#ef5350"/>
<line x1="775.08" y1="90.00" x2="775.08" y2="103.75" stroke="#dc5553" stroke-width="0.85"/>
<rect x="773.08" y="96.75" width="4" height="3.25" fill="#ef5350"/>
<line x1="780.83" y1="96.25" x2="780.83" y2="117.00" stroke="#dc5553" stroke-width="0.85"/>
<rect x="778.83" y="99.50" width="4" height="16.75" fill="#ef5350"/>
<line x1="786.57" y1="113.75" x2="786.57" y2="136.75" stroke="#dc5553" stroke-width="0.85"/>
<rect x="784.57" y="115.00" width="4" height="21.25" fill="#ef5350"/>
<line x1="792.32" y1="130.50" x2="792.32" y2="143.00" stroke="#2f9a8f" stroke-width="0.85"/>
<rect x="790.32" y="135.00" width="4" height="0.75" fill="#26a69a"/>
</g>
<polyline fill="none" stroke="#69a85e" stroke-width="1.25" stroke-linejoin="round" points="-0.50,313.00 5.25,310.81 11.00,310.02 16.74,307.87 22.48,305.34 28.23,302.28 33.98,299.28 39.72,297.04 45.47,292.92 51.21,289.07 56.95,285.11 62.70,281.00 68.44,276.86 74.19,272.04 79.94,267.46 85.68,262.11 91.42,256.79 97.17,252.64 102.92,248.34 108.66,244.36 114.41,240.78 120.15,238.20 125.89,236.18 131.64,235.55 137.38,234.40 143.13,232.50 148.88,229.48 154.62,226.15 160.37,223.13 166.11,220.74 171.85,217.00 177.60,213.69 183.34,209.77 189.09,205.77 194.84,201.43 200.58,196.73 206.33,193.42 212.07,191.07 217.81,188.42 223.56,185.95 229.31,183.31 235.05,179.54 240.80,176.23 246.54,174.23 252.28,171.93 258.03,170.67 263.77,169.80 269.52,169.72 275.26,168.10 281.01,165.62 286.75,166.82 292.50,167.15 298.25,165.99 303.99,165.66 309.74,164.41 315.48,161.99 321.23,158.94 326.97,158.21 332.72,159.83 338.46,160.16 344.20,162.47 349.95,163.81 355.69,166.50 361.44,164.40 367.19,161.27 372.93,156.53 378.68,151.64 384.42,146.92 390.17,142.83 395.91,138.75 401.66,135.80 407.40,133.89 413.14,131.37 418.89,128.70 424.63,124.01 430.38,118.75 436.12,114.37 441.87,109.93 447.62,105.48 453.36,102.84 459.11,101.57 464.85,98.21 470.60,94.04 476.34,89.49 482.09,87.35 487.83,85.82 493.57,84.26 499.32,85.90 505.06,88.20 510.81,89.82 516.56,91.17 522.30,91.18 528.04,91.43 533.79,88.38 539.53,86.35 545.28,85.58 551.02,83.57 556.77,81.59 562.51,80.25 568.26,80.84 574.00,81.19 579.75,82.34 585.50,83.57 591.24,85.85 596.99,88.58 602.73,91.88 608.48,94.83 614.22,98.49 619.97,101.92 625.71,104.62 631.46,106.04 637.20,104.46 642.95,103.99 648.69,105.04 654.44,106.30 660.18,108.39 665.93,108.66 671.67,108.31 677.41,110.69 683.16,110.22 688.90,110.31 694.65,112.74 700.39,113.90 706.14,114.15 711.88,112.99 717.63,113.19 723.38,111.95 729.12,110.48 734.87,108.48 740.61,106.03 746.36,104.74 752.10,102.70 757.85,100.96 763.59,99.16 769.34,99.12 775.08,99.16 780.83,100.74 786.57,104.07 792.32,106.97"/>
<line x1="0" y1="344.4" x2="989.5" y2="344.4" stroke="#e2e2e6" stroke-width="0.8"/>
<defs><linearGradient id="g70" gradientUnits="userSpaceOnUse" x1="0" y1="355" x2="0" y2="379"><stop offset="0" stop-color="#4caf50" stop-opacity="0.34"/><stop offset="1" stop-color="#4caf50" stop-opacity="0"/></linearGradient>
<clipPath id="c70"><rect x="0" y="345" width="989.5" height="34.00"/></clipPath></defs>
<polygon clip-path="url(#c70)" fill="url(#g70)" points="-0.50,379.00 -0.50,395.00 5.25,397.50 11.00,407.50 16.74,398.75 22.48,395.75 28.23,391.00 33.98,390.00 39.72,393.75 45.47,383.00 51.21,382.25 56.95,379.75 62.70,377.00 68.44,374.75 74.19,369.50 79.94,368.25 85.68,363.25 91.42,361.75 97.17,370.25 102.92,368.00 108.66,367.50 114.41,367.75 120.15,377.50 125.89,382.00 131.64,399.50 137.38,395.75 143.13,390.00 148.88,380.00 154.62,375.50 160.37,376.25 166.11,379.50 171.85,370.50 177.60,370.50 183.34,365.75 189.09,363.75 194.84,360.50 200.58,356.75 206.33,370.00 212.07,381.75 217.81,378.75 223.56,378.00 229.31,375.00 235.05,366.75 240.80,367.75 246.54,383.75 252.28,381.25 258.03,392.50 263.77,397.50 269.52,405.75 275.26,392.50 281.01,385.50 286.75,420.00 292.50,415.00 298.25,404.25 303.99,409.50 309.74,403.25 315.48,395.00 321.23,390.00 326.97,407.50 332.72,423.75 338.46,416.75 344.20,428.75 349.95,424.25 355.69,432.00 361.44,405.50 367.19,399.50 372.93,392.50 378.68,390.50 384.42,389.50 390.17,389.50 395.91,388.75 401.66,394.25 407.40,400.00 413.14,396.75 418.89,393.75 424.63,383.00 430.38,378.25 436.12,381.25 441.87,379.50 447.62,377.50 453.36,390.50 459.11,401.25 464.85,390.00 470.60,384.25 476.34,381.25 482.09,397.50 487.83,400.50 493.57,400.50 499.32,422.00 505.06,426.75 510.81,424.25 516.56,423.00 522.30,414.50 528.04,415.75 533.79,396.25 539.53,400.75 545.28,408.75 551.02,402.00 556.77,400.75 562.51,405.00 568.26,418.25 574.00,417.50 579.75,423.00 585.50,425.00 591.24,432.50 596.99,437.00 602.73,442.00 608.48,442.50 614.22,448.00 619.97,448.25 625.71,444.50 631.46,432.50 637.20,408.25 642.95,415.75 648.69,426.25 654.44,428.75 660.18,434.50 665.93,421.75 671.67,417.00 677.41,434.25 683.16,416.75 688.90,419.50 694.65,433.00 700.39,427.00 706.14,420.75 711.88,412.50 717.63,419.50 723.38,411.75 729.12,409.50 734.87,405.25 740.61,402.00 746.36,408.75 752.10,403.75 757.85,404.50 763.59,403.25 769.34,415.75 775.08,417.00 780.83,428.75 786.57,439.50 792.32,438.75 792.32,379.00"/>
<line x1="0" y1="379.00" x2="989.5" y2="379.00" stroke="#6f786f" stroke-width="0.6" stroke-dasharray="3.2 3.25"/>
<line x1="0" y1="417.50" x2="989.5" y2="417.50" stroke="#a8a8ab" stroke-width="0.6" stroke-dasharray="3.2 3.25"/>
<line x1="0" y1="456.75" x2="989.5" y2="456.75" stroke="#947c7c" stroke-width="0.6" stroke-dasharray="3.2 3.25"/>
<polyline fill="none" stroke="#f3f3bb" stroke-width="1.3" stroke-linejoin="round" points="0.00,393.75 12.50,395.00 25.00,394.00 37.50,393.75 50.00,394.25 62.50,392.50 75.00,388.75 87.50,382.50 100.00,376.25 112.50,373.00 125.00,372.50 137.50,374.25 150.00,376.25 162.50,377.50 175.00,378.75 187.50,378.00 200.00,376.25 212.50,373.00 225.00,371.25 237.50,370.00 240.00,368.75 252.50,371.25 265.00,376.25 277.50,382.50 290.00,387.50 302.50,392.50 315.00,396.75 327.50,401.25 340.00,406.25 352.50,410.50 360.00,412.50 370.00,410.50 380.00,407.50 390.00,406.25 402.50,405.00 415.00,402.00 427.50,396.25 440.00,390.50 452.50,388.00 465.00,388.00 477.50,387.50 480.00,388.00 492.50,389.25 505.00,394.50 517.50,401.25 530.00,405.50 542.50,407.00 555.00,409.50 567.50,411.25 580.00,412.00 592.50,413.75 605.00,417.50 617.50,424.50 630.00,429.50 642.50,431.25 655.00,432.50 667.50,432.50 680.00,430.50 692.50,427.50 705.00,423.75 717.50,422.50 720.00,423.00 732.50,419.50 745.00,417.50 757.50,413.75 770.00,411.75 777.50,411.25 785.00,412.00 792.50,414.50"/>
<polyline fill="none" stroke="#44474f" stroke-width="0.9" stroke-linejoin="round" points="-0.50,395.00 5.25,397.50 11.00,407.50 16.74,398.75 22.48,395.75 28.23,391.00 33.98,390.00 39.72,393.75 45.47,383.00 51.21,382.25 56.95,379.75 62.70,377.00 68.44,374.75 74.19,369.50 79.94,368.25 85.68,363.25 91.42,361.75 97.17,370.25 102.92,368.00 108.66,367.50 114.41,367.75 120.15,377.50 125.89,382.00 131.64,399.50 137.38,395.75 143.13,390.00 148.88,380.00 154.62,375.50 160.37,376.25 166.11,379.50 171.85,370.50 177.60,370.50 183.34,365.75 189.09,363.75 194.84,360.50 200.58,356.75 206.33,370.00 212.07,381.75 217.81,378.75 223.56,378.00 229.31,375.00 235.05,366.75 240.80,367.75 246.54,383.75 252.28,381.25 258.03,392.50 263.77,397.50 269.52,405.75 275.26,392.50 281.01,385.50 286.75,420.00 292.50,415.00 298.25,404.25 303.99,409.50 309.74,403.25 315.48,395.00 321.23,390.00 326.97,407.50 332.72,423.75 338.46,416.75 344.20,428.75 349.95,424.25 355.69,432.00 361.44,405.50 367.19,399.50 372.93,392.50 378.68,390.50 384.42,389.50 390.17,389.50 395.91,388.75 401.66,394.25 407.40,400.00 413.14,396.75 418.89,393.75 424.63,383.00 430.38,378.25 436.12,381.25 441.87,379.50 447.62,377.50 453.36,390.50 459.11,401.25 464.85,390.00 470.60,384.25 476.34,381.25 482.09,397.50 487.83,400.50 493.57,400.50 499.32,422.00 505.06,426.75 510.81,424.25 516.56,423.00 522.30,414.50 528.04,415.75 533.79,396.25 539.53,400.75 545.28,408.75 551.02,402.00 556.77,400.75 562.51,405.00 568.26,418.25 574.00,417.50 579.75,423.00 585.50,425.00 591.24,432.50 596.99,437.00 602.73,442.00 608.48,442.50 614.22,448.00 619.97,448.25 625.71,444.50 631.46,432.50 637.20,408.25 642.95,415.75 648.69,426.25 654.44,428.75 660.18,434.50 665.93,421.75 671.67,417.00 677.41,434.25 683.16,416.75 688.90,419.50 694.65,433.00 700.39,427.00 706.14,420.75 711.88,412.50 717.63,419.50 723.38,411.75 729.12,409.50 734.87,405.25 740.61,402.00 746.36,408.75 752.10,403.75 757.85,404.50 763.59,403.25 769.34,415.75 775.08,417.00 780.83,428.75 786.57,439.50 792.32,438.75"/>
<line x1="989.5" y1="0" x2="989.5" y2="483" stroke="#55585f" stroke-width="0.7"/>
<line x1="0" y1="467.4" x2="1024" y2="467.4" stroke="#55585f" stroke-width="0.7"/>
<text x="994.75" y="22.02" font-size="6.80" fill="#42464f" textLength="24.40" lengthAdjust="spacingAndGlyphs">1.35000</text>
<text x="994.75" y="45.95" font-size="6.80" fill="#42464f" textLength="24.40" lengthAdjust="spacingAndGlyphs">1.34800</text>
<text x="994.75" y="69.88" font-size="6.80" fill="#42464f" textLength="24.40" lengthAdjust="spacingAndGlyphs">1.34600</text>
<text x="994.75" y="93.81" font-size="6.80" fill="#42464f" textLength="24.40" lengthAdjust="spacingAndGlyphs">1.34400</text>
<text x="994.75" y="117.74" font-size="6.80" fill="#42464f" textLength="24.40" lengthAdjust="spacingAndGlyphs">1.34200</text>
<text x="994.75" y="165.60" font-size="6.80" fill="#42464f" textLength="24.40" lengthAdjust="spacingAndGlyphs">1.33800</text>
<text x="994.75" y="189.53" font-size="6.80" fill="#42464f" textLength="24.40" lengthAdjust="spacingAndGlyphs">1.33600</text>
<text x="994.75" y="213.46" font-size="6.80" fill="#42464f" textLength="24.40" lengthAdjust="spacingAndGlyphs">1.33400</text>
<text x="994.75" y="237.39" font-size="6.80" fill="#42464f" textLength="24.40" lengthAdjust="spacingAndGlyphs">1.33200</text>
<text x="994.75" y="261.32" font-size="6.80" fill="#42464f" textLength="24.40" lengthAdjust="spacingAndGlyphs">1.33000</text>
<text x="994.75" y="285.25" font-size="6.80" fill="#42464f" textLength="24.40" lengthAdjust="spacingAndGlyphs">1.32800</text>
<text x="994.75" y="309.18" font-size="6.80" fill="#42464f" textLength="24.40" lengthAdjust="spacingAndGlyphs">1.32600</text>
<text x="994.75" y="333.11" font-size="6.80" fill="#42464f" textLength="24.40" lengthAdjust="spacingAndGlyphs">1.32400</text>
<text x="994.75" y="361.70" font-size="6.80" fill="#42464f" textLength="16.40" lengthAdjust="spacingAndGlyphs">80.00</text>
<text x="994.75" y="381.45" font-size="6.80" fill="#42464f" textLength="16.40" lengthAdjust="spacingAndGlyphs">70.00</text>
<text x="994.75" y="400.70" font-size="6.80" fill="#42464f" textLength="16.40" lengthAdjust="spacingAndGlyphs">60.00</text>
<text x="994.75" y="419.95" font-size="6.80" fill="#42464f" textLength="16.40" lengthAdjust="spacingAndGlyphs">50.00</text>
<text x="994.75" y="439.70" font-size="6.80" fill="#42464f" textLength="16.40" lengthAdjust="spacingAndGlyphs">40.00</text>
<text x="994.75" y="459.20" font-size="6.80" fill="#42464f" textLength="16.40" lengthAdjust="spacingAndGlyphs">30.00</text>
<rect x="990" y="0" width="34" height="18.7" fill="#fff"/>
<rect x="992.2" y="1.2" width="29.5" height="13.8" rx="1.5" fill="#fff" stroke="#e3e5ea" stroke-width="0.6"/>
<text x="993.90" y="11.20" font-size="6.80" fill="#23262e" stroke="#23262e" stroke-width="0.25" textLength="12.20" lengthAdjust="spacingAndGlyphs">SGD</text>
<path d="M1016.6 7.9 l1.6 1.7 l1.6 -1.7" fill="none" stroke="#23262e" stroke-width="1"/>
<rect x="989.5" y="131" width="32.6" height="17.5" fill="#26a69a"/>
<text x="995.00" y="138.20" font-size="6.80" fill="#ffffff" stroke="#ffffff" stroke-width="0.30" textLength="22.90" lengthAdjust="spacingAndGlyphs">1.34032</text>
<text x="995.00" y="146.30" font-size="6.50" fill="#d4efeb" stroke="#d4efeb" stroke-width="0.10" textLength="16.00" lengthAdjust="spacingAndGlyphs">33:32</text>
<text x="5.25" y="477.70" font-size="6.80" fill="#42464f" stroke="#42464f" stroke-width="0.10" textLength="6.30" lengthAdjust="spacingAndGlyphs" text-anchor="middle">11</text>
<text x="74.18" y="477.70" font-size="6.80" fill="#42464f" stroke="#42464f" stroke-width="0.10" textLength="16.50" lengthAdjust="spacingAndGlyphs" text-anchor="middle">12:00</text>
<text x="143.11" y="477.70" font-size="6.80" fill="#42464f" stroke="#42464f" stroke-width="0.10" textLength="6.30" lengthAdjust="spacingAndGlyphs" text-anchor="middle">12</text>
<text x="212.04" y="477.70" font-size="6.80" fill="#42464f" stroke="#42464f" stroke-width="0.10" textLength="16.50" lengthAdjust="spacingAndGlyphs" text-anchor="middle">12:00</text>
<text x="280.97" y="477.70" font-size="6.80" fill="#42464f" stroke="#42464f" stroke-width="0.10" textLength="6.30" lengthAdjust="spacingAndGlyphs" text-anchor="middle">13</text>
<text x="349.90" y="477.70" font-size="6.80" fill="#42464f" stroke="#42464f" stroke-width="0.10" textLength="16.50" lengthAdjust="spacingAndGlyphs" text-anchor="middle">12:00</text>
<text x="418.83" y="477.70" font-size="6.80" fill="#42464f" stroke="#42464f" stroke-width="0.10" textLength="6.30" lengthAdjust="spacingAndGlyphs" text-anchor="middle">14</text>
<text x="487.76" y="477.70" font-size="6.80" fill="#42464f" stroke="#42464f" stroke-width="0.10" textLength="16.50" lengthAdjust="spacingAndGlyphs" text-anchor="middle">12:00</text>
<text x="556.69" y="477.70" font-size="6.80" fill="#42464f" stroke="#42464f" stroke-width="0.10" textLength="6.30" lengthAdjust="spacingAndGlyphs" text-anchor="middle">15</text>
<text x="625.62" y="477.70" font-size="6.80" fill="#42464f" stroke="#42464f" stroke-width="0.10" textLength="16.50" lengthAdjust="spacingAndGlyphs" text-anchor="middle">12:00</text>
<text x="694.55" y="477.70" font-size="6.80" fill="#42464f" stroke="#42464f" stroke-width="0.10" textLength="6.30" lengthAdjust="spacingAndGlyphs" text-anchor="middle">18</text>
<text x="763.48" y="477.70" font-size="6.80" fill="#42464f" stroke="#42464f" stroke-width="0.10" textLength="16.50" lengthAdjust="spacingAndGlyphs" text-anchor="middle">12:00</text>
<text x="832.41" y="477.70" font-size="6.80" fill="#42464f" stroke="#42464f" stroke-width="0.10" textLength="6.30" lengthAdjust="spacingAndGlyphs" text-anchor="middle">19</text>
<text x="901.34" y="477.70" font-size="6.80" fill="#42464f" stroke="#42464f" stroke-width="0.10" textLength="16.50" lengthAdjust="spacingAndGlyphs" text-anchor="middle">12:00</text>
<text x="970.27" y="477.70" font-size="6.80" fill="#42464f" stroke="#42464f" stroke-width="0.10" textLength="6.30" lengthAdjust="spacingAndGlyphs" text-anchor="middle">20</text>
<polygon points="1011.55,475.50 1009.40,479.22 1005.10,479.22 1002.95,475.50 1005.10,471.78 1009.40,471.78" fill="none" stroke="#2a2e39" stroke-width="0.8"/>
<circle cx="1007.25" cy="475.5" r="1.5" fill="none" stroke="#2a2e39" stroke-width="0.8"/>
<circle cx="11.6" cy="5.1" r="3.05" fill="#e6555f"/><path d="M8.55 5.4 h6.1 a3.05 3.05 0 0 1 -6.1 0z" fill="#f7dfe2"/>
<circle cx="7.7" cy="9.7" r="4.3" fill="#fff"/><circle cx="7.7" cy="9.7" r="3.8" fill="#e5525e"/>
<clipPath id="uf"><circle cx="7.7" cy="9.7" r="3.8"/></clipPath>
<g clip-path="url(#uf)"><path d="M3 9.1h10 M3 11.3h10" stroke="#fbe9ea" stroke-width="0.9"/><rect x="3" y="5" width="5.6" height="4.6" fill="#5a86c0"/></g>
<text x="17.20" y="11.80" font-size="9.00" fill="#555961" stroke="#555961" stroke-width="0.20" textLength="160.30" lengthAdjust="spacingAndGlyphs">U.S. Dollar / Singapore Dollar · 1h · ICE</text>
<rect x="188" y="3.7" width="9.2" height="9" rx="2" fill="#d6f2ee"/><circle cx="192.7" cy="8.2" r="2.2" fill="#1f8f78"/>
<rect x="198.2" y="3.7" width="10.5" height="9" rx="2" fill="#fbc3d6"/><path d="M200.7 7h5.5M200.7 9.4h5.5" stroke="#e0457b" stroke-width="0.9"/>
<text x="219.75" y="11.00" font-size="7.10" fill="#555961" stroke="#555961" stroke-width="0.15">O</text>
<text x="225.35" y="11.00" font-size="7.10" fill="#3f9e92" stroke="#3f9e92" stroke-width="0.12" textLength="25.60" lengthAdjust="spacingAndGlyphs">1.34027</text>
<text x="255.60" y="11.00" font-size="7.10" fill="#555961" stroke="#555961" stroke-width="0.15">H</text>
<text x="260.90" y="11.00" font-size="7.10" fill="#3f9e92" stroke="#3f9e92" stroke-width="0.12" textLength="25.60" lengthAdjust="spacingAndGlyphs">1.34063</text>
<text x="291.00" y="11.00" font-size="7.10" fill="#555961" stroke="#555961" stroke-width="0.15">L</text>
<text x="295.20" y="11.00" font-size="7.10" fill="#3f9e92" stroke="#3f9e92" stroke-width="0.12" textLength="25.60" lengthAdjust="spacingAndGlyphs">1.33969</text>
<text x="326.00" y="11.00" font-size="7.10" fill="#555961" stroke="#555961" stroke-width="0.15">C</text>
<text x="331.30" y="11.00" font-size="7.10" fill="#3f9e92" stroke="#3f9e92" stroke-width="0.12" textLength="25.60" lengthAdjust="spacingAndGlyphs">1.34032</text>
<text x="361.25" y="11.00" font-size="7.10" fill="#3f9e92" stroke="#3f9e92" stroke-width="0.12" textLength="29.35" lengthAdjust="spacingAndGlyphs">+0.00005</text>
<text x="394.40" y="11.00" font-size="7.10" fill="#3f9e92" stroke="#3f9e92" stroke-width="0.12" textLength="27.85" lengthAdjust="spacingAndGlyphs">(+0.00%)</text>
<rect x="3.5" y="17.6" width="39" height="19.6" rx="3" fill="#fff" stroke="#d09fa6" stroke-width="1.1"/>
<text x="11.25" y="26.00" font-size="6.60" fill="#d8485c" stroke="#d8485c" stroke-width="0.12" textLength="22.50" lengthAdjust="spacingAndGlyphs">1.3403</text>
<text x="34.30" y="24.20" font-size="4.40" fill="#d8485c" stroke="#d8485c" stroke-width="0.10">2</text>
<text x="23.00" y="34.40" font-size="6.30" fill="#e3687a" stroke="#e3687a" stroke-width="0.10" textLength="13.50" lengthAdjust="spacingAndGlyphs" text-anchor="middle">SELL</text>
<text x="47.25" y="29.70" font-size="5.70" fill="#33363e" stroke="#33363e" stroke-width="0.20" textLength="8.30" lengthAdjust="spacingAndGlyphs">0.8</text>
<rect x="60.5" y="17.6" width="39.1" height="19.6" rx="3" fill="#fff" stroke="#93a2c2" stroke-width="1.1"/>
<text x="67.50" y="26.00" font-size="6.60" fill="#5060b0" stroke="#5060b0" stroke-width="0.12" textLength="22.50" lengthAdjust="spacingAndGlyphs">1.3404</text>
<text x="90.60" y="24.20" font-size="4.40" fill="#5060b0" stroke="#5060b0" stroke-width="0.10">0</text>
<text x="79.85" y="34.40" font-size="6.30" fill="#6b7bc2" stroke="#6b7bc2" stroke-width="0.10" textLength="11.50" lengthAdjust="spacingAndGlyphs" text-anchor="middle">BUY</text>
<text x="4.40" y="49.40" font-size="7.00" fill="#555961" stroke="#555961" stroke-width="0.15" textLength="10.00" lengthAdjust="spacingAndGlyphs">Vol</text>
<text x="19.40" y="49.40" font-size="7.00" fill="#3f9e92" stroke="#3f9e92" stroke-width="0.12" textLength="27.85" lengthAdjust="spacingAndGlyphs">13.276 K</text>
<text x="4.40" y="63.50" font-size="7.00" fill="#555961" stroke="#555961" stroke-width="0.15" textLength="43.10" lengthAdjust="spacingAndGlyphs">EMA 20 close</text>
<text x="53.10" y="63.50" font-size="7.00" fill="#62a95c" stroke="#62a95c" stroke-width="0.12" textLength="25.90" lengthAdjust="spacingAndGlyphs">1.34263</text>
<rect x="4.5" y="69" width="15.5" height="11.2" rx="1.5" fill="#fff" stroke="#dcdfe5" stroke-width="0.8"/>
<path d="M9.7 76.3 l2.55 -2.5 l2.55 2.5" fill="none" stroke="#23262e" stroke-width="1.1"/>
<text x="4.40" y="356.90" font-size="7.00" fill="#555961" stroke="#555961" stroke-width="0.15" textLength="39.35" lengthAdjust="spacingAndGlyphs">RSI 14 close</text>
<text x="49.00" y="356.90" font-size="7.00" fill="#2b2e36" stroke="#2b2e36" stroke-width="0.25" textLength="17.90" lengthAdjust="spacingAndGlyphs">38.92</text>
<text x="71.50" y="356.90" font-size="7.00" fill="#ebeb86" stroke="#ebeb86" stroke-width="0.20" textLength="17.00" lengthAdjust="spacingAndGlyphs">51.41</text>
<text x="93.75" y="356.90" font-size="6.50" fill="#33363e" stroke="#33363e" stroke-width="0.20">∅</text>
<text x="102.00" y="356.90" font-size="6.50" fill="#33363e" stroke="#33363e" stroke-width="0.20">∅</text>
<circle cx="792.4" cy="336.7" r="5.4" fill="#f8f0fe" stroke="#7d5fa8" stroke-width="1.1"/>
<path d="M793.5 333.6 l-3.1 3.7 h2.1 l-1.1 2.9 l3.3 -3.9 h-2.2z" fill="#7a4cc2"/>
<clipPath id="fc"><circle cx="906.55" cy="336.5" r="5.4"/></clipPath>
<g clip-path="url(#fc)"><rect x="900" y="330" width="14" height="14" fill="#e8606c"/><path d="M900 335.2h14M900 338.6h14" stroke="#fbeaea" stroke-width="1.1"/><rect x="900" y="330" width="8.8" height="7.6" fill="#5b7fc8"/><path d="M900 338.6h14" stroke="#fff" stroke-width="1.2"/></g>
<circle cx="906.55" cy="336.5" r="5.8" fill="none" stroke="#cf5f7c" stroke-width="0.9"/>
<g fill="#1a1c22" stroke="#fff" stroke-width="1.6" paint-order="stroke" stroke-linejoin="round">
<path d="M5.9 450.3 H13.1 V458.75 H9.4 V454 H5.9 Z"/>
<circle cx="15.2" cy="452.1" r="1.4"/>
<path d="M17.8 450.3 H22.8 L20 458.75 H15.6 Z"/>
<text x="27.4" y="458.75" font-size="11.8" font-weight="bold" textLength="70" lengthAdjust="spacingAndGlyphs">TradingView</text>
</g>
</svg></body></html>
